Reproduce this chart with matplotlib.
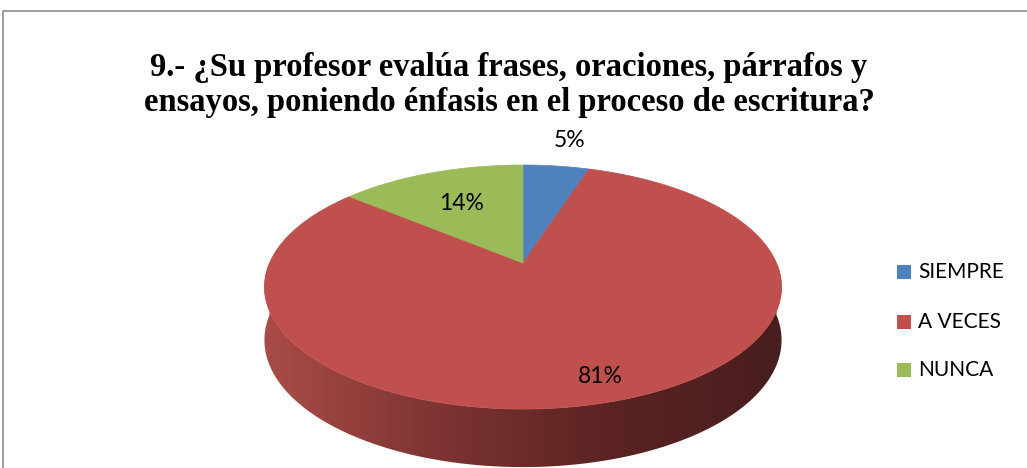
import numpy as np
import matplotlib.pyplot as plt
from matplotlib.patches import Polygon, Rectangle
from matplotlib.colors import LinearSegmentedColormap

# Data
labels = ["SIEMPRE", "A VECES", "NUNCA"]
values = [5, 81, 14]
colors = ["#4F81BD", "#C0504D", "#9BBB59"]
title = "9.- ¿Su profesor evalúa frases, oraciones, párrafos y\nensayos, poniendo énfasis en el proceso de escritura?"

# Pie geometry (pixel space)
cx, cy = 523, 263
rx, ry = 253.5, 117.3
k = 0.197          # perspective strength
depth = 58

def project(phi, r=1.0):
    s = 1 / (1 + k * r * np.sin(phi))
    return cx + rx * r * np.cos(phi) * s, cy - ry * r * np.sin(phi) * s

def side_drop(phi):
    s = 1 / (1 + k * np.sin(phi))
    return depth * np.sqrt(s * (1 - k))

fig = plt.figure(figsize=(10.27, 4.68), dpi=100)
ax = fig.add_axes([0, 0, 1, 1])

# chart border
ax.plot([3, 3, 1027], [468, 11, 11], color="#8c8c8c", lw=1.2)

# side wall (front half) with a left-to-right shade
phis = np.linspace(np.pi, 2 * np.pi, 300)
upper = [project(t) for t in phis]
lower = [(x, y + side_drop(t)) for (x, y), t in zip(upper, phis)]
side = Polygon(upper + lower[::-1], closed=True, facecolor="none", edgecolor="none")
ax.add_patch(side)
shade = LinearSegmentedColormap.from_list(
    "shade", [(0, "#aa4c48"), (0.34, "#7d3432"), (0.65, "#5c2423"), (1, "#481d1d")])
grad = np.linspace(0, 1, 256).reshape(1, -1)
img = ax.imshow(grad, cmap=shade, aspect="auto", extent=(cx - rx * 1.03, cx + rx * 1.03, 475, 250),
                zorder=1)
img.set_clip_path(side)

ax.set_xlim(0, 1027)
ax.set_ylim(468, 0)
ax.axis("off")

# top face wedges, clockwise from 12 o'clock
start = np.pi / 2
mids = []
for v, col in zip(values, colors):
    span = v / sum(values) * 2 * np.pi
    ang = np.linspace(start, start - span, 200)
    pts = [(cx, cy)] + [project(t) for t in ang]
    ax.add_patch(Polygon(pts, closed=True, facecolor=col, edgecolor=col, lw=0.5, zorder=2))
    mids.append(start - span / 2)
    start -= span

# data labels
label_r = [1.3, 0.86, 0.6]
label_dx = [5, 5, -3]
for v, m, r, dx in zip(values, mids, label_r, label_dx):
    x, y = project(m, r)
    ax.text(x + dx, y - 2, f"{v}%", ha="center", va="center", fontsize=16.5, family="Lato", zorder=3)

# title
ax.text(509, 85, title, ha="center", va="center", fontsize=23.5, fontweight="bold",
        family="Liberation Serif", linespacing=1.2)

# legend
leg_y = [272, 322, 370]
for lab, col, y in zip(labels, colors, leg_y):
    ax.add_patch(Rectangle((897, y - 7), 14, 14, facecolor=col, edgecolor="none"))
    ax.text(918, y, lab, ha="left", va="center", fontsize=15, family="Lato")

fig.savefig("out.png", dpi=100)
